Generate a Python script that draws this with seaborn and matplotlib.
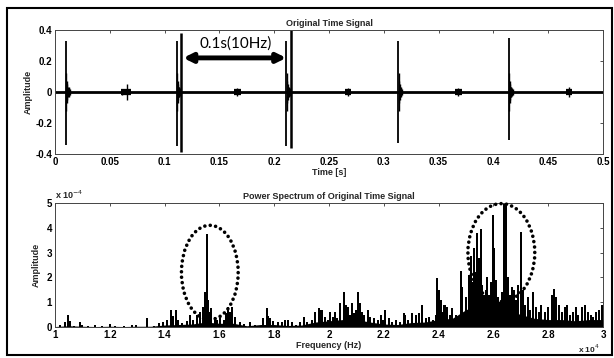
import matplotlib
matplotlib.use("Agg")
import matplotlib.pyplot as plt
from matplotlib.patches import Ellipse
import numpy as np
import pandas as pd
import seaborn as sns

sns.set_theme(style="white")
plt.rcParams['font.family'] = ['Liberation Sans', 'DejaVu Sans']

# ---------------- datos: senal temporal ----------------
spike_t = [0.0099, 0.111, 0.211, 0.313, 0.414]
spike_top = [0.33, 0.33, 0.33, 0.33, 0.35]
spike_bot = [-0.34, -0.35, -0.35, -0.33, -0.31]

# ringing after each spike (offset s, amplitude)
ring_dt = [0.0005, 0.0010, 0.0015, 0.0020, 0.0025, 0.0030, 0.0035]
ring_amp = [0.12, 0.07, 0.05, 0.035, 0.03, 0.025, 0.02]

# bursts pequenos (centro, amplitud, semi-ancho)
burst_t = [0.0615, 0.066, 0.1665, 0.2675, 0.368, 0.469]
burst_amp = [0.02, 0.05, 0.025, 0.025, 0.025, 0.03]
burst_w = [0.001, 0.003, 0.003, 0.003, 0.003, 0.003]

marca_t = [0.1147, 0.2155]
marca_top = [0.38, 0.40]
marca_bot = [-0.39, -0.36]

base_t = [0.0, 0.5]
base_y = [0.0, 0.0]

# ---------------- datos: espectro ----------------
pico_f = [1.02, 1.035, 1.047, 1.055, 1.07, 1.09, 1.10, 1.12, 1.145, 1.17, 1.20, 1.22, 1.25,
          1.28, 1.297, 1.334, 1.36, 1.38, 1.395, 1.41, 1.425, 1.432, 1.443, 1.45, 1.465,
          1.48, 1.492, 1.505, 1.517, 1.529, 1.541, 1.548, 1.554, 1.559, 1.565, 1.571, 1.584,
          1.59, 1.602, 1.615, 1.625, 1.632, 1.638, 1.645, 1.657, 1.675, 1.69, 1.712, 1.73,
          1.76, 1.773, 1.779, 1.785, 1.797, 1.815, 1.83, 1.84, 1.852, 1.864, 1.88, 1.895,
          1.907, 1.92, 1.938, 1.95, 1.962, 1.968, 1.976, 1.986, 1.995, 2.005, 2.015, 2.023,
          2.03, 2.041, 2.056, 2.062, 2.068, 2.076, 2.084, 2.09, 2.10, 2.106, 2.114, 2.12,
          2.129, 2.141, 2.15, 2.163, 2.178, 2.188, 2.196, 2.206, 2.218, 2.23, 2.243, 2.26,
          2.273, 2.279, 2.29, 2.304, 2.316, 2.328, 2.34, 2.353, 2.365, 2.378, 2.39, 2.395,
          2.401, 2.407, 2.413, 2.419, 2.425, 2.432, 2.44, 2.45, 2.462, 2.48, 2.486, 2.499,
          2.511, 2.517, 2.523, 2.529, 2.535, 2.541, 2.547, 2.553, 2.559, 2.565, 2.572, 2.578,
          2.584, 2.59, 2.597, 2.603, 2.61, 2.617, 2.625, 2.632, 2.639, 2.645, 2.652, 2.66,
          2.667, 2.675, 2.683, 2.69, 2.70, 2.707, 2.715, 2.725, 2.735, 2.745, 2.755, 2.765,
          2.775, 2.79, 2.80, 2.815, 2.822, 2.83, 2.84, 2.85, 2.86, 2.87, 2.88, 2.89, 2.90,
          2.91, 2.925, 2.935, 2.945, 2.955, 2.965, 2.975, 2.985, 2.995]
pico_a = [0.08, 0.2, 0.5, 0.25, 0.06, 0.22, 0.1, 0.05, 0.08, 0.05, 0.12, 0.04, 0.04,
          0.08, 0.08, 0.35, 0.06, 0.15, 0.22, 0.3, 0.7, 0.45, 0.7, 0.3, 0.15,
          0.25, 0.48, 0.3, 0.48, 0.62, 0.82, 1.4, 3.75, 1.1, 0.6, 0.75, 0.42,
          0.3, 0.35, 0.3, 0.55, 0.82, 0.6, 0.82, 0.42, 0.2, 0.12, 0.2, 0.1,
          0.35, 0.75, 0.45, 0.35, 0.25, 0.21, 0.2, 0.28, 0.3, 0.2, 0.1, 0.2,
          0.42, 0.2, 0.28, 0.62, 0.75, 0.7, 0.68, 0.42, 0.3, 0.62, 0.4, 0.62,
          0.35, 0.95, 1.42, 0.9, 0.82, 0.5, 0.95, 0.55, 0.7, 1.42, 0.95, 0.6,
          0.48, 0.68, 0.4, 0.35, 0.28, 0.48, 0.3, 0.69, 0.35, 0.2, 0.28, 0.2,
          0.55, 0.48, 0.3, 0.55, 0.48, 0.55, 0.89, 0.35, 0.42, 0.3, 0.48, 1.96,
          1.5, 1.09, 0.6, 0.89, 0.89, 0.82, 0.5, 0.75, 0.5, 2.25, 1.6, 1.2,
          2.1, 2.85, 1.8, 3.2, 2.2, 3.8, 2.8, 3.95, 1.7, 1.3, 1.5, 2.0,
          1.3, 1.8, 4.5, 3.2, 1.9, 1.2, 1.0, 1.4, 5.0, 4.9, 2.0, 1.3,
          1.6, 1.5, 1.1, 1.7, 3.85, 1.5, 0.9, 1.2, 0.7, 1.4, 0.8, 0.6,
          0.9, 0.6, 0.8, 1.3, 1.55, 1.2, 0.9, 0.6, 0.8, 0.9, 0.5, 0.6, 0.8,
          0.5, 0.8, 0.9, 0.6, 0.5, 0.4, 0.6, 0.7, 0.9]

piso_f = [1.00, 1.05, 1.10, 1.15, 1.20, 1.25, 1.30, 1.35, 1.40, 1.45, 1.50, 1.55, 1.60,
          1.65, 1.70, 1.75, 1.80, 1.85, 1.90, 1.95, 2.00, 2.05, 2.10, 2.15, 2.20, 2.25,
          2.30, 2.35, 2.40, 2.45, 2.50, 2.55, 2.60, 2.65, 2.70, 2.75, 2.80, 2.85, 2.90,
          2.95, 3.00]
piso_a = [0.02, 0.05, 0.03, 0.02, 0.03, 0.02, 0.03, 0.03, 0.08, 0.1, 0.12, 0.2, 0.15,
          0.15, 0.05, 0.1, 0.1, 0.06, 0.08, 0.2, 0.25, 0.3, 0.3, 0.2, 0.12, 0.1,
          0.18, 0.2, 0.3, 0.35, 0.7, 0.9, 0.9, 0.7, 0.5, 0.35, 0.3, 0.3, 0.25,
          0.3, 0.3]

# elipses punteadas (centro f, centro a, ancho, alto)
elip_cf = [1.565, 2.629]
elip_ca = [2.2, 3.0]
elip_w = [0.207, 0.244]
elip_h = [3.8, 3.95]

t_ticks = [0, 0.05, 0.1, 0.15, 0.2, 0.25, 0.3, 0.35, 0.4, 0.45, 0.5]
t_labels = ["0", "0.05", "0.1", "0.15", "0.2", "0.25", "0.3", "0.35", "0.4", "0.45", "0.5"]
f_ticks = [1, 1.2, 1.4, 1.6, 1.8, 2, 2.2, 2.4, 2.6, 2.8, 3]
f_labels = ["1", "1.2", "1.4", "1.6", "1.8", "2", "2.2", "2.4", "2.6", "2.8", "3"]

# ---------------- figura ----------------
W, H = 614, 358
fig = plt.figure(figsize=(W / 100, H / 100), dpi=100)
ax1 = fig.add_axes([55 / W, 1 - 154 / H, 548 / W, 124 / H])
ax2 = fig.add_axes([55 / W, 1 - 327 / H, 548 / W, 124 / H])

# marco exterior
fig.add_artist(plt.Rectangle((7 / W, 3 / H), 605 / W, 347 / H, transform=fig.transFigure,
                             fill=False, edgecolor="black", lw=1.5))

# ---- senal temporal
sns.lineplot(x=base_t, y=base_y, ax=ax1, color="black", lw=2.0)
ax1.vlines(spike_t, spike_bot, spike_top, color="black", lw=1.3)
for t0 in spike_t:
    rt = [t0 + d for d in ring_dt]
    ax1.vlines(rt, [-a for a in ring_amp], ring_amp, color="black", lw=1.0)
ax1.vlines(burst_t, [-a for a in burst_amp], burst_amp, color="black", lw=1.0)
ax1.hlines([0] * len(burst_t), [t - w for t, w in zip(burst_t, burst_w)],
           [t + w for t, w in zip(burst_t, burst_w)], color="black", lw=4.5)
ax1.vlines(marca_t, marca_bot, marca_top, color="black", lw=1.8)

ax1.annotate("", xy=(0.117, 0.22), xytext=(0.211, 0.22),
             arrowprops=dict(arrowstyle="<|-|>", lw=3.5, color="black", mutation_scale=13,
                             shrinkA=0, shrinkB=0))
ax1.text(0.165, 0.315, "0.1s(10Hz)", ha="center", va="center", fontsize=11,
         family=["Lato", "DejaVu Sans"], color="black")

ax1.set_xlim(0, 0.5)
ax1.set_ylim(-0.4, 0.4)
ax1.set_xticks(t_ticks)
ax1.set_xticklabels(t_labels)
ax1.set_yticks([-0.4, -0.2, 0, 0.2, 0.4])
ax1.set_yticklabels(["-0.4", "-0.2", "0", "0.2", "0.4"])
ax1.set_title("Original Time Signal", fontsize=6.5, fontweight="bold", pad=3)
ax1.set_xlabel("Time [s]", fontsize=6.5, fontweight="bold", labelpad=1)
ax1.set_ylabel("Amplitude", fontsize=6.5, fontweight="bold", labelpad=2)

# ---- espectro
ax2.fill_between(piso_f, 0, piso_a, color="black", lw=0)
ax2.vlines(pico_f, 0, pico_a, color="black", lw=1.3, antialiased=False)
for cf, ca, w, h in zip(elip_cf, elip_ca, elip_w, elip_h):
    e = Ellipse((cf, ca), w, h, fill=False, edgecolor="black", lw=2.6,
                linestyle=(0, (0.01, 1.5)), clip_on=False, zorder=5)
    e.set_capstyle("round")
    ax2.add_patch(e)

ax2.set_xlim(1, 3)
ax2.set_ylim(0, 5)
ax2.set_xticks(f_ticks)
ax2.set_xticklabels(f_labels)
ax2.set_yticks([0, 1, 2, 3, 4, 5])
ax2.set_yticklabels(["0", "1", "2", "3", "4", "5"])
ax2.set_title("Power Spectrum of Original Time Signal", fontsize=6.5, fontweight="bold", pad=3)
ax2.set_xlabel("Frequency (Hz)", fontsize=6.5, fontweight="bold", labelpad=1)
ax2.set_ylabel("Amplitude", fontsize=6.5, fontweight="bold", labelpad=4)
ax2.text(0.0, 1.015, r"x 10$^{-4}$", transform=ax2.transAxes, fontsize=6.5,
         fontweight="bold", ha="left", va="bottom")
ax2.text(0.995, -0.175, r"x 10$^{4}$", transform=ax2.transAxes, fontsize=6,
         fontweight="bold", ha="right", va="center")

for ax in (ax1, ax2):
    for s in ax.spines.values():
        s.set_visible(True)
        s.set_color("#444444")
        s.set_linewidth(0.7)
    ax.tick_params(direction="in", length=2.5, width=0.6, top=True, right=True,
                   labelsize=7, pad=2, colors="#333333", labelcolor="black")
    for lab in ax.get_xticklabels() + ax.get_yticklabels():
        lab.set_fontweight("bold")

fig.savefig("out.png", dpi=100)
